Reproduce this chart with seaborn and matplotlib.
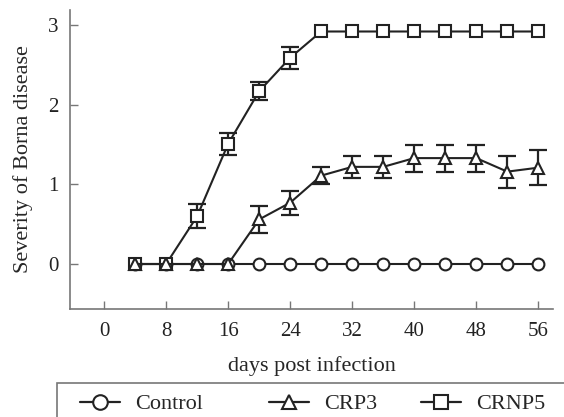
import numpy as np
import pandas as pd
import matplotlib
matplotlib.use("Agg")
import matplotlib.pyplot as plt
from matplotlib.patches import Rectangle
import seaborn as sns

days = [4, 8, 12, 16, 20, 24, 28, 32, 36, 40, 44, 48, 52, 56]
control = [0, 0, 0, 0, 0, 0, 0, 0, 0, 0, 0, 0, 0, 0]
control_err = [0, 0, 0, 0, 0, 0, 0, 0, 0, 0, 0, 0, 0, 0]
crp3 = [0, 0, 0, 0, 0.56, 0.77, 1.11, 1.22, 1.22, 1.33, 1.33, 1.33, 1.16, 1.21]
crp3_err = [0, 0, 0, 0, 0.17, 0.15, 0.11, 0.14, 0.14, 0.17, 0.17, 0.17, 0.2, 0.22]
crnp5 = [0, 0, 0.6, 1.51, 2.17, 2.59, 2.92, 2.92, 2.92, 2.92, 2.92, 2.92, 2.92, 2.92]
crnp5_err = [0, 0, 0.15, 0.14, 0.11, 0.14, 0, 0, 0, 0, 0, 0, 0, 0]
groups = ["Control", "CRP3", "CRNP5"]
markers = {"Control": "o", "CRP3": "^", "CRNP5": "s"}

df = pd.DataFrame({
    "day": days * 3,
    "severity": control + crp3 + crnp5,
    "err": control_err + crp3_err + crnp5_err,
    "group": np.repeat(groups, len(days)),
})

sns.set_style("ticks")
plt.rcParams["font.family"] = ["Liberation Serif", "DejaVu Serif"]

fig = plt.figure(figsize=(5.64, 4.17), dpi=100)
ax = fig.add_axes([70 / 564, 1 - 309 / 417, (553 - 70) / 564, (309 - 10) / 417])

ink = "#222222"
grey = "#777777"
# error bars first, so markers sit on top
for g in ["CRNP5", "CRP3"]:
    sub = df[df.group == g]
    keep = sub.err > 0
    ax.errorbar(sub.day[keep], sub.severity[keep], yerr=sub.err[keep], fmt="none",
                ecolor=ink, elinewidth=1.6, capsize=6.5, capthick=1.6, zorder=2)

# draw order: circles, then squares, then triangles on top
for i, g in enumerate(["Control", "CRNP5", "CRP3"]):
    sns.lineplot(data=df[df.group == g], x="day", y="severity", marker=markers[g],
                 color=ink, linewidth=1.5, markersize=8.5, markerfacecolor="white",
                 markeredgecolor=ink, markeredgewidth=1.5, ax=ax, zorder=3 + i)

ax.set_xlim(-4.4, 57.9)
ax.set_ylim(-0.565, 3.19)
ax.set_xticks(range(0, 57, 8))
ax.set_yticks([0, 1, 2, 3])
ax.set_xlabel("days post infection", fontsize=16, labelpad=11)
ax.set_ylabel("Severity of Borna disease", fontsize=16, labelpad=11)
ax.tick_params(direction="in", length=6, width=1, color=grey, labelsize=15,
               labelcolor=ink)
ax.tick_params(axis="y", pad=8)
ax.tick_params(axis="x", pad=9)
sns.despine(ax=ax)
for s in ["left", "bottom"]:
    ax.spines[s].set_color(grey)
    ax.spines[s].set_linewidth(1.2)

# legend box runs off the right and bottom edges
fig.patches.append(Rectangle((57 / 564, -0.2), 1.0, 0.2 + 1 - 383 / 417,
                             transform=fig.transFigure, fill=False,
                             edgecolor=grey, linewidth=1.2))
starts = [80, 269, 421]
for g, x0 in zip(groups, starts):
    h = plt.Line2D([], [], color=ink, lw=1.6, marker=markers[g], markersize=10.5,
                   markerfacecolor="white", markeredgecolor=ink, markeredgewidth=1.5)
    leg = fig.legend([h], [g], loc="center left",
                     bbox_to_anchor=(x0 / 564, 1 - 404 / 417), frameon=False,
                     borderpad=0, borderaxespad=0, handlelength=1.8,
                     handletextpad=0.68, fontsize=16)

fig.savefig("out.png", dpi=100)
